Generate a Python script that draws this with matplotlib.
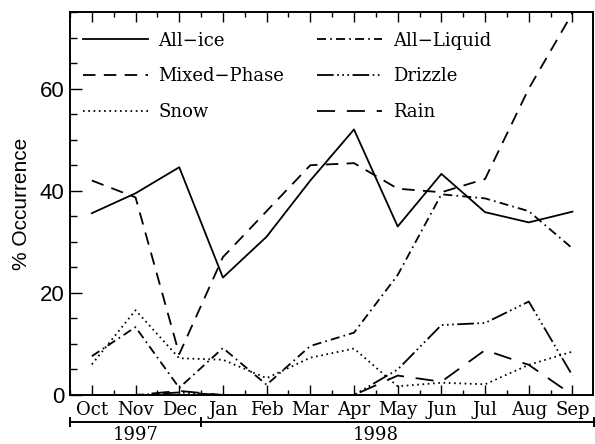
import numpy as np
import matplotlib
matplotlib.use("Agg")
import matplotlib.pyplot as plt
from matplotlib.ticker import MultipleLocator
from matplotlib.transforms import blended_transform_factory

# values (% occurrence per month, Oct 1997 - Sep 1998)
months = ["Oct", "Nov", "Dec", "Jan", "Feb", "Mar", "Apr", "May", "Jun", "Jul", "Aug", "Sep"]
all_ice = [35.6, 39.5, 44.6, 23.0, 31.0, 42.0, 52.0, 33.0, 43.3, 35.8, 33.8, 35.9]
mixed_phase = [42.0, 38.7, 8.0, 27.0, 36.0, 45.0, 45.4, 40.4, 39.7, 42.3, 60.0, 74.8]
snow = [6.0, 16.6, 7.2, 6.9, 3.3, 7.3, 9.1, 1.7, 2.4, 2.1, 5.9, 8.5]
all_liquid = [7.6, 13.3, 1.4, 9.2, 2.0, 9.6, 12.2, 23.5, 39.3, 38.5, 36.0, 28.7]
drizzle = [0.0, 0.0, 0.5, 0.0, 0.0, 0.0, 0.0, 5.0, 13.7, 14.1, 18.3, 3.8]
rain = [0.0, 0.0, 0.8, 0.0, 0.0, 0.0, 0.0, 3.8, 2.6, 8.8, 5.9, 0.0]
years = ["1997", "1998"]
year_edges = [-0.5, 2.5, 11.5]
year_pos = [1.0, 6.5]

plt.rcParams['lines.scale_dashes'] = False

fig = plt.figure(figsize=(5.95, 4.44), dpi=100)
ax = fig.add_axes([70 / 595, 49 / 444, 523 / 595, 383 / 444])

x = np.arange(len(months))
lw = 1.3
ax.plot(x, all_ice, color="black", lw=lw, ls="-", label="All\u2212ice")
ax.plot(x, mixed_phase, color="black", lw=lw, ls=(0, (9, 6)), label="Mixed\u2212Phase")
ax.plot(x, snow, color="black", lw=lw, ls=(0, (1.2, 2.6)), label="Snow")
ax.plot(x, all_liquid, color="black", lw=lw, ls=(0, (6.5, 3, 1.2, 3)), label="All\u2212Liquid")
ax.plot(x, drizzle, color="black", lw=lw,
        ls=(0, (12, 2.5, 1.2, 2.5, 1.2, 2.5, 1.2, 2.5)), label="Drizzle")
ax.plot(x, rain, color="black", lw=lw, ls=(0, (13, 8.5)), label="Rain")

ax.set_xlim(-0.5, 11.47)
ax.set_ylim(0, 75)

ax.set_xticks(x)
ax.set_xticklabels(months, family="DejaVu Serif", fontsize=13)
ax.xaxis.set_minor_locator(MultipleLocator(0.5))
ax.yaxis.set_major_locator(MultipleLocator(20))
ax.yaxis.set_minor_locator(MultipleLocator(5))
for lab in ax.get_yticklabels():
    lab.set_family("Liberation Sans")
    lab.set_fontsize(16)

ax.tick_params(axis="x", which="major", direction="in", length=7, width=1, top=True, pad=4)
ax.tick_params(axis="x", which="minor", direction="in", length=3.5, width=1, top=True)
ax.tick_params(axis="y", which="major", direction="in", length=8.5, width=1, right=False, pad=4)
ax.tick_params(axis="y", which="minor", direction="in", length=5, width=1, right=False)
for s in ax.spines.values():
    s.set_linewidth(1.4)

ax.set_ylabel("% Occurrence", family="Liberation Sans", fontsize=15, labelpad=6)

ax.legend(ncol=2, loc="upper left", frameon=False, prop={"family": "DejaVu Serif", "size": 13},
          handlelength=3.6, handletextpad=0.6, columnspacing=1.8, labelspacing=0.98,
          bbox_to_anchor=(0.0, 0.982), borderaxespad=0.3)

# year bar under the month labels
tr = blended_transform_factory(ax.transData, ax.transAxes)
ybar = -0.0705
ax.plot([year_edges[0], year_edges[-1]], [ybar, ybar], color="black", lw=1.4,
        transform=tr, clip_on=False)
for e in year_edges:
    ax.plot([e, e], [ybar - 0.011, ybar + 0.011], color="black", lw=1.4,
            transform=tr, clip_on=False)
for yr, p in zip(years, year_pos):
    ax.text(p, -0.104, yr, transform=tr, ha="center", va="center",
            family="DejaVu Serif", fontsize=13)

fig.savefig("out.png", dpi=100)
